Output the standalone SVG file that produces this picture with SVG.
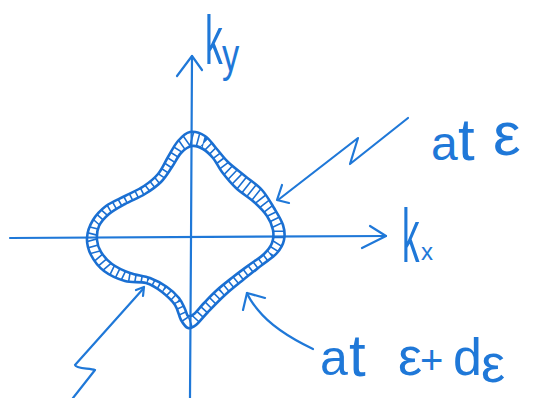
<svg xmlns="http://www.w3.org/2000/svg" width="537" height="398" viewBox="0 0 537 398">
<style>
.ink{fill:none;stroke:#1f78d8;stroke-width:2.2;stroke-linecap:round;stroke-linejoin:round}
.ring{fill:none;stroke:#1a6fd2;stroke-width:2.6;stroke-linejoin:round}
.hatch{fill:none;stroke:#1a6fd2;stroke-width:20;stroke-dasharray:1.6 4.6;stroke-linejoin:round}
.lbl{fill:#1f78d8;font-family:"Liberation Sans",Arial,sans-serif}
</style>
<defs>
<path id="outer" d="M190,132 C194.5,131.2 200.7,133.3 205,136 S212.2,143.7 216,148 S223.2,157.3 228,162 S239.3,171.3 245,176 S257.2,184.7 262,190 S270.5,202.2 274,208 S281.3,219.7 283,225 S285,235.3 284,240 S280.7,248.8 277,253 S267.7,260.5 262,265 S249.2,275 243,280 S230.8,289.7 225,295 S212.8,307 208,312 S199.3,322.3 196,325 S190.5,328.8 188,328 S183.2,323.8 181,320 S178.2,309.7 175,305 S166.8,295.7 162,292 S152.2,284.8 146,283 S132,283 125,281 S109.7,275.3 104,271 S93.8,260.5 91,255 S86.7,243.8 87,238 S89.8,225.3 93,220 S100.7,210 106,206 S118.7,199.3 125,196 S138.5,189.7 144,186 S154,178.8 158,174 S164.7,162.5 168,157 S174.3,145.2 178,141 S185.5,132.8 190,132 Z"/>
<path id="inner" d="M192,146 C195.7,145.3 199.5,147 203,149 S209.8,154.2 213,158 S218.2,167 222,172 S230.7,183 236,188 S248.8,197.3 254,202 S263.8,211.3 267,216 S272.2,225.5 273,230 S273.5,239 272,243 S267.8,250.3 264,254 S254.2,261.2 249,265 S238.3,272.8 233,277 S221.8,285.7 217,290 S207.8,299 204,303 S196.7,311.8 194,314 S189.5,316.8 188,316 S186.5,312 185,309 S182,301.7 179,298 S171.8,290.3 167,287 S156.2,280.3 150,278 S136.3,275.3 130,273 S116.8,267.5 112,264 S103.5,256 101,252 S97.3,244.3 97,240 S97,230.3 99,226 S104.7,217.7 109,214 S119,207.3 125,204 S139,197.7 145,194 S156.5,186.5 161,182 S168.7,171.8 172,167 S177.7,156.5 181,153 S188.3,146.7 192,146 Z"/>
<clipPath id="ringClip">
<path clip-rule="evenodd" d="M190,132 C194.5,131.2 200.7,133.3 205,136 S212.2,143.7 216,148 S223.2,157.3 228,162 S239.3,171.3 245,176 S257.2,184.7 262,190 S270.5,202.2 274,208 S281.3,219.7 283,225 S285,235.3 284,240 S280.7,248.8 277,253 S267.7,260.5 262,265 S249.2,275 243,280 S230.8,289.7 225,295 S212.8,307 208,312 S199.3,322.3 196,325 S190.5,328.8 188,328 S183.2,323.8 181,320 S178.2,309.7 175,305 S166.8,295.7 162,292 S152.2,284.8 146,283 S132,283 125,281 S109.7,275.3 104,271 S93.8,260.5 91,255 S86.7,243.8 87,238 S89.8,225.3 93,220 S100.7,210 106,206 S118.7,199.3 125,196 S138.5,189.7 144,186 S154,178.8 158,174 S164.7,162.5 168,157 S174.3,145.2 178,141 S185.5,132.8 190,132 Z M192,146 C195.7,145.3 199.5,147 203,149 S209.8,154.2 213,158 S218.2,167 222,172 S230.7,183 236,188 S248.8,197.3 254,202 S263.8,211.3 267,216 S272.2,225.5 273,230 S273.5,239 272,243 S267.8,250.3 264,254 S254.2,261.2 249,265 S238.3,272.8 233,277 S221.8,285.7 217,290 S207.8,299 204,303 S196.7,311.8 194,314 S189.5,316.8 188,316 S186.5,312 185,309 S182,301.7 179,298 S171.8,290.3 167,287 S156.2,280.3 150,278 S136.3,275.3 130,273 S116.8,267.5 112,264 S103.5,256 101,252 S97.3,244.3 97,240 S97,230.3 99,226 S104.7,217.7 109,214 S119,207.3 125,204 S139,197.7 145,194 S156.5,186.5 161,182 S168.7,171.8 172,167 S177.7,156.5 181,153 S188.3,146.7 192,146 Z"/>
</clipPath>
</defs>

<g id="axes">
<path class="ink" d="M192,56 L191,240 L190,398"/>
<path class="ink" d="M177,76 L192,56 L202,70"/>
<path class="ink" d="M10,238 L386,236"/>
<path class="ink" d="M370,226 L386,236 L362,248"/>
</g>

<g id="fermi-shell">
<polyline class="hatch" clip-path="url(#ringClip)" points="191,139 204,142.5 214.5,153 225,167 240.5,182 258,196 270.5,212 278,227.5 278,241.5 270.5,253.5 255.5,265 238,278.5 221,292.5 206,307.5 195,319.5 188,322 183,314.5 177,301.5 164.5,289.5 148,280.5 127.5,277 108,267.5 96,253.5 92,239 96,223 107.5,210 125,200 144.5,190 159.5,178 170,162 179.5,147 191,139"/>
<use href="#outer" class="ring"/>
<use href="#inner" class="ring"/>
</g>

<g id="connectors">
<path class="ink" d="M408,118 L350,164 L358,138 L278,200"/>
<path class="ink" d="M282,185 L277,200 L289,203"/>
<path class="ink" d="M313,349 C290,338 270,325 258,310 C253,304 249,298 247,293"/>
<path class="ink" d="M243,310 L247,293 L265,298"/>
<path class="ink" d="M143,289 L75,365 C76,369 90,368 95,370 L73,398"/>
<path class="ink" d="M136,290 L144,287 L143,296"/>
</g>

<g id="label-ky">
<text class="lbl" font-size="68" transform="translate(205,64) scale(0.52,1)">k</text>
<text class="lbl" font-size="46" transform="translate(222,71) scale(0.75,1)">y</text>
</g>
<g id="label-kx">
<text class="lbl" font-size="76" transform="translate(402,262) scale(0.46,1)">k</text>
<text class="lbl" font-size="24" x="421" y="260">x</text>
</g>
<g id="label-e">
<text class="lbl"><tspan x="431" y="160" font-size="48">a</tspan><tspan x="458" y="160" font-size="60">t</tspan><tspan x="493" y="155" font-size="62">ε</tspan></text>
</g>
<g id="label-ede">
<text class="lbl"><tspan x="320" y="375" font-size="50">a</tspan><tspan x="349" y="376" font-size="60">t</tspan><tspan x="398" y="375" font-size="54">ε</tspan><tspan x="420" y="374" font-size="40">+</tspan><tspan x="453" y="375" font-size="52">d</tspan><tspan x="481" y="382" font-size="54">ε</tspan></text>
</g>
</svg>
